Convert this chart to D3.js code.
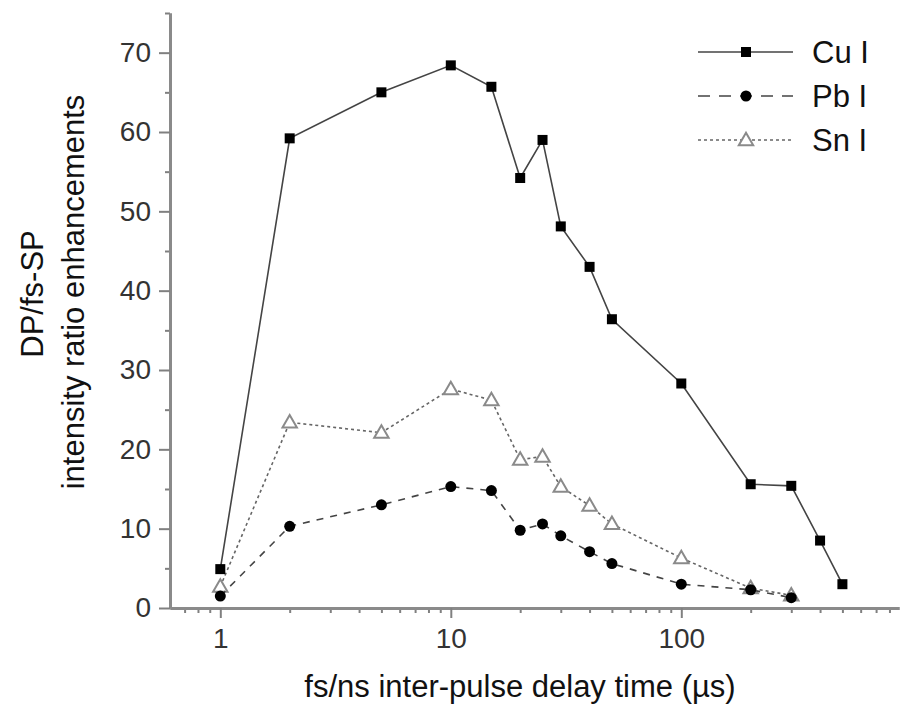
<!DOCTYPE html>
<html lang="en">
<head>
    <meta charset='utf-8'>
    <title>DP/fs-SP intensity ratio enhancements</title>
    <script src="https://cdn.jsdelivr.net/npm/d3@7"></script>
    <style>
        body { margin: 0; background: #fff; }
        svg { display: block; font-family: "Liberation Sans", Arial, sans-serif; }
    </style>
</head>
<body>
<svg></svg>
<script>
    // values
    const delays = [1, 2, 5, 10, 15, 20, 25, 30, 40, 50, 100, 200, 300, 400, 500]
    const cuI = [4.9, 59.2, 65.0, 68.4, 65.7, 54.2, 59.0, 48.1, 43.0, 36.4, 28.3, 15.6, 15.4, 8.5, 3.0]
    const pbDelays = [1, 2, 5, 10, 15, 20, 25, 30, 40, 50, 100, 200, 300]
    const pbI = [1.5, 10.3, 13.0, 15.3, 14.8, 9.8, 10.6, 9.1, 7.1, 5.6, 3.0, 2.3, 1.3]
    const snDelays = [1, 2, 5, 10, 15, 20, 25, 30, 40, 50, 100, 200, 300]
    const snI = [2.7, 23.4, 22.1, 27.6, 26.2, 18.7, 19.1, 15.3, 12.9, 10.6, 6.3, 2.5, 1.6]

    const xMajor = [1, 10, 100]
    const xMinor = [0.7, 0.8, 0.9, 2, 3, 4, 5, 6, 7, 8, 9, 20, 30, 40, 50, 60, 70, 80, 90, 200, 300, 400, 500, 600, 700, 800]
    const yMajor = [0, 10, 20, 30, 40, 50, 60, 70]
    const yMinor = [5, 15, 25, 35, 45, 55, 65, 75]
    const seriesNames = ["Cu I", "Pb I", "Sn I"]

    const width = 900
    const height = 704
    const margin = ({top: 13, right: 1, bottom: 96, left: 170})

    const svg = d3.select("svg")
        .attr("width", width)
        .attr("height", height)

    const x = d3.scaleLog()
        .domain([0.605, 880])
        .range([margin.left, width - margin.right])

    const y = d3.scaleLinear()
        .domain([0, 75])
        .range([height - margin.bottom, margin.top])

    const styleAxis = (g, labels) => {
        g.select(".domain").attr("stroke", "#8a8a8a").attr("stroke-width", 3)
        g.selectAll(".tick line").attr("stroke", "#808080").attr("stroke-width", 2)
        g.selectAll(".tick text")
            .attr("fill", "#333")
            .attr("font-size", 28)
            .attr("font-family", "Liberation Sans, Arial, sans-serif")
        if (!labels) g.selectAll(".tick text").remove()
    }

    // x axis: minor ticks, then major ticks with labels
    svg.append("g")
        .attr("transform", `translate(0,${y(0)})`)
        .call(d3.axisBottom(x).tickValues(xMinor).tickSize(5).tickSizeOuter(0))
        .call(g => styleAxis(g, false))
    svg.append("g")
        .attr("transform", `translate(0,${y(0)})`)
        .call(d3.axisBottom(x).tickValues(xMajor).tickFormat(d3.format("d")).tickSize(10).tickPadding(10).tickSizeOuter(0))
        .call(g => styleAxis(g, true))

    // y axis
    svg.append("g")
        .attr("transform", `translate(${margin.left},0)`)
        .call(d3.axisLeft(y).tickValues(yMinor).tickSize(5).tickSizeOuter(0))
        .call(g => styleAxis(g, false))
    svg.append("g")
        .attr("transform", `translate(${margin.left},0)`)
        .call(d3.axisLeft(y).tickValues(yMajor).tickSize(11).tickPadding(8).tickSizeOuter(0))
        .call(g => styleAxis(g, true))

    // axis titles
    svg.append("text")
        .attr("x", 520)
        .attr("y", 697)
        .attr("text-anchor", "middle")
        .attr("font-size", 31)
        .attr("fill", "#111")
        .text("fs/ns inter-pulse delay time (\u00b5s)")

    svg.append("text")
        .attr("transform", "translate(43,294) rotate(-90)")
        .attr("text-anchor", "middle")
        .attr("font-size", 31)
        .attr("fill", "#111")
        .text("DP/fs-SP")

    svg.append("text")
        .attr("transform", "translate(84,292) rotate(-90)")
        .attr("text-anchor", "middle")
        .attr("font-size", 31)
        .attr("fill", "#111")
        .text("intensity ratio enhancements")

    const series = [
        {name: seriesNames[0], xs: delays, ys: cuI, dash: null, marker: "square"},
        {name: seriesNames[1], xs: pbDelays, ys: pbI, dash: "7,7", marker: "circle"},
        {name: seriesNames[2], xs: snDelays, ys: snI, dash: "3,3", marker: "triangle"}
    ]

    const line = d3.line()
        .x(d => x(d[0]))
        .y(d => y(d[1]))

    const drawMarker = (g, type, cx, cy) => {
        if (type === "square") {
            g.append("rect")
                .attr("x", cx - 5).attr("y", cy - 5)
                .attr("width", 10).attr("height", 10)
                .attr("fill", "#000")
        } else if (type === "circle") {
            g.append("circle")
                .attr("cx", cx).attr("cy", cy).attr("r", 5.5)
                .attr("fill", "#000")
        } else {
            g.append("path")
                .attr("d", d3.symbol(d3.symbolTriangle, 90)())
                .attr("transform", `translate(${cx},${cy + 1})`)
                .attr("fill", "#fff")
                .attr("stroke", "#8a8a8a")
                .attr("stroke-width", 2)
        }
    }

    // draw Sn first so Cu and Pb sit on top
    const plot = svg.append("g")
    series.slice().reverse().forEach(s => {
        const pts = s.xs.map((d, i) => [d, s.ys[i]])
        plot.append("path")
            .datum(pts)
            .attr("d", line)
            .attr("fill", "none")
            .attr("stroke", s.marker === "triangle" ? "#666" : "#444")
            .attr("stroke-width", 1.6)
            .attr("stroke-dasharray", s.dash)
        const mg = plot.append("g")
        pts.forEach(p => drawMarker(mg, s.marker, x(p[0]), y(p[1])))
    })

    // legend
    const legend = svg.append("g")
    series.forEach((s, i) => {
        const ly = 52 + i * 44
        legend.append("line")
            .attr("x1", 698).attr("x2", 793)
            .attr("y1", ly).attr("y2", ly)
            .attr("stroke", s.marker === "triangle" ? "#666" : "#444")
            .attr("stroke-width", 1.6)
            .attr("stroke-dasharray", s.dash === "7,7" ? "12,9" : s.dash)
        drawMarker(legend, s.marker, 746, ly)
        legend.append("text")
            .attr("x", 812)
            .attr("y", ly + 11)
            .attr("font-size", 31)
            .attr("fill", "#111")
            .text(s.name)
    })
</script>
</body>
</html>
